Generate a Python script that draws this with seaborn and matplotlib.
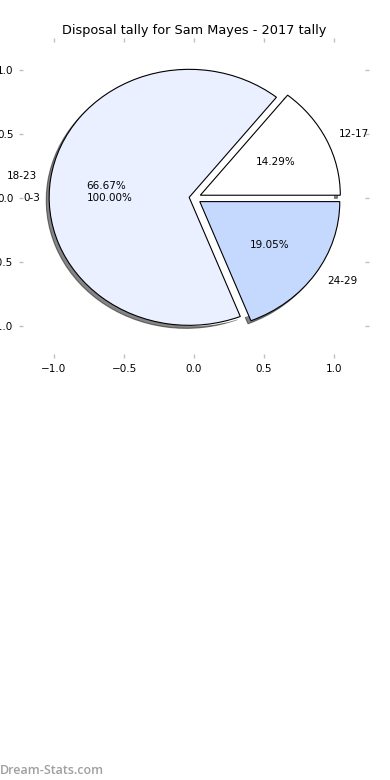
import matplotlib
matplotlib.use("Agg")
import matplotlib.pyplot as plt
import seaborn as sns

sns.set_theme(style="white")
plt.rcParams['font.family'] = ['DejaVu Sans']

title = "Disposal tally for Sam Mayes - 2017 tally"
labels = ["12-17", "18-23", "24-29"]
values = [3, 14, 4]
explode = [0.05, 0.035, 0.05]
colors = ["#ffffff", "#eaf0ff", "#c5d9ff"]

extra_labels = ["0-3"]
extra_values = [1]

ticks = [-1.0, -0.5, 0.0, 0.5, 1.0]

fig = plt.figure(figsize=(3.9, 7.8), dpi=100)
ax = fig.add_axes([19/390, 1 - 358/780, 350/390, 320/780])

# single-slice white pie underneath (hides inner shadows; only label and % show)
ax.pie(extra_values, labels=extra_labels, autopct="%1.2f%%",
       colors=["white"], wedgeprops=dict(linewidth=0, edgecolor="white"),
       textprops=dict(fontsize=7.5, color="black"), frame=True)

ax.pie(values, labels=labels, explode=explode, colors=colors,
       autopct="%1.2f%%", shadow=dict(ox=-0.015, oy=-0.017, shade=0.95),
       wedgeprops=dict(edgecolor="black", linewidth=0.8),
       textprops=dict(fontsize=7.5, color="black"), frame=True)

ax.set_xlim(-1.25, 1.25)
ax.set_ylim(-1.25, 1.25)
ax.set_aspect("auto")
ax.set_xticks(ticks)
ax.set_yticks(ticks)
ax.set_frame_on(False)
ax.tick_params(axis="both", which="both", direction="in", length=3, width=1,
               color="#c0c0c0", labelsize=7.5, labelcolor="black", pad=4,
               top=True, right=True, bottom=True, left=True,
               labeltop=False, labelright=False)
ax.set_title(title, fontsize=9.3, pad=3, color="black")

fig.text(0.0, 0.004, "Dream-Stats.com", fontsize=9, color="#a0a0a0",
         ha="left", va="bottom", family=["Open Sans", "DejaVu Sans"],
         fontweight="semibold")

fig.savefig("out.png", dpi=100)
